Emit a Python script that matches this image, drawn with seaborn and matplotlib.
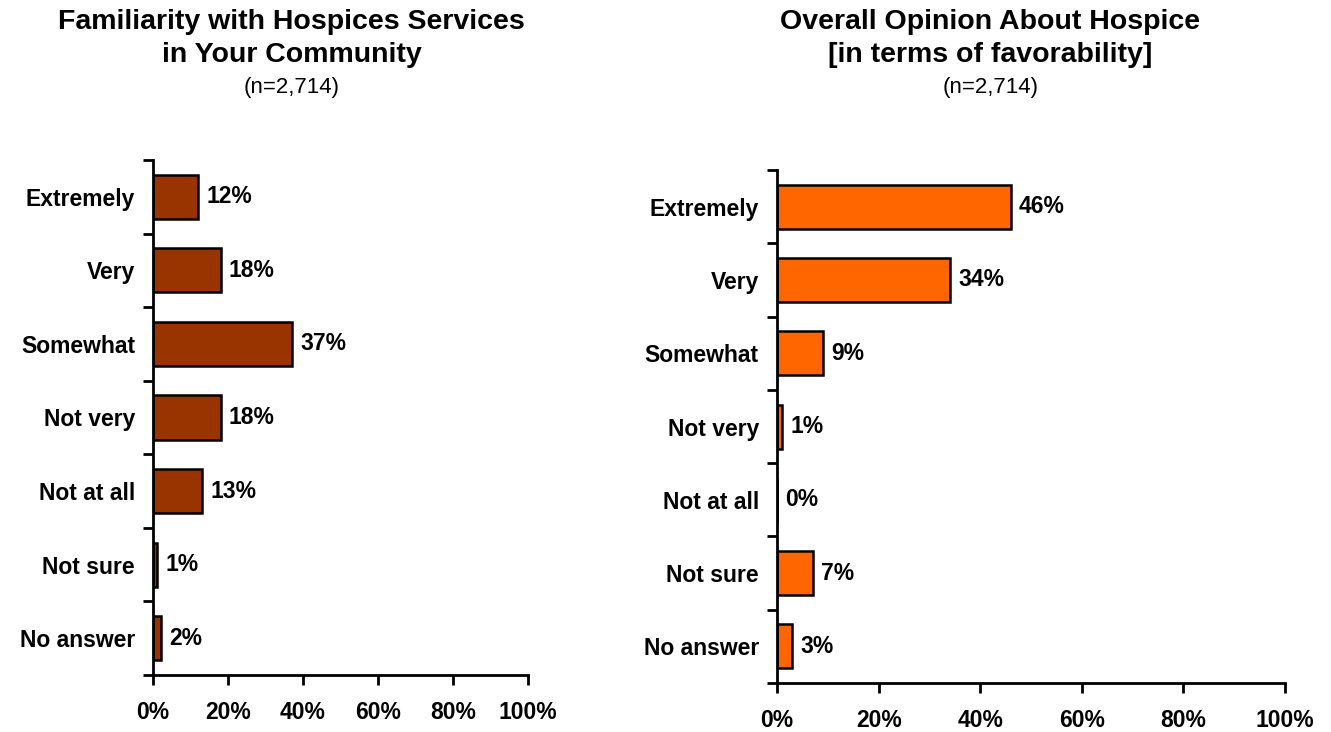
import matplotlib
matplotlib.use("Agg")
import matplotlib.pyplot as plt
import seaborn as sns
import pandas as pd

sns.set_theme(style="white")
plt.rcParams["font.family"] = ["Liberation Sans", "DejaVu Sans"]
plt.rcParams.update({"text.color": "black", "axes.labelcolor": "black",
                     "xtick.color": "black", "ytick.color": "black"})

categories = ["Extremely", "Very", "Somewhat", "Not very", "Not at all", "Not sure", "No answer"]
familiarity = [12, 18, 37, 18, 13, 1, 2]
opinion = [46, 34, 9, 1, 0, 7, 3]
x_ticks = [0, 20, 40, 60, 80, 100]
x_tick_labels = ["0%", "20%", "40%", "60%", "80%", "100%"]

left_title = ["Familiarity with Hospices Services", "in Your Community"]
right_title = ["Overall Opinion About Hospice", "[in terms of favorability]"]
sample_note = "(n=2,714)"

LABEL_SIZE = 16.5

fig = plt.figure(figsize=(13.31, 7.32), dpi=100)
ax_left = fig.add_axes([0.1150, 0.0779, 0.2817, 0.7035])
ax_right = fig.add_axes([0.5838, 0.0669, 0.3817, 0.7008])


def draw_panel(ax, values, color):
    df = pd.DataFrame({"category": categories, "pct": values})
    sns.barplot(data=df, x="pct", y="category", color=color, saturation=1,
                edgecolor="black", linewidth=1.8, width=0.6, ax=ax)
    ax.set_xlim(0, 100)
    ax.set_ylim(len(categories) - 0.5, -0.5)
    ax.set_xlabel("")
    ax.set_ylabel("")

    # boundary ticks between categories; labels sit on minor ticks at the centres
    ax.set_yticks([i - 0.5 for i in range(len(categories) + 1)])
    ax.set_yticklabels([])
    ax.set_yticks(range(len(categories)), minor=True)
    ax.set_yticklabels(categories, minor=True, fontsize=LABEL_SIZE, fontweight="bold")
    ax.tick_params(axis="y", which="major", direction="out", length=7, width=2,
                   color="black", left=True)
    ax.tick_params(axis="y", which="minor", length=0, pad=13, left=True)

    ax.set_xticks(x_ticks)
    ax.set_xticklabels(x_tick_labels, fontsize=LABEL_SIZE, fontweight="bold")
    ax.tick_params(axis="x", direction="out", length=7, width=2, color="black",
                   pad=12, bottom=True)

    for side in ["top", "right"]:
        ax.spines[side].set_visible(False)
    for side in ["left", "bottom"]:
        ax.spines[side].set_color("black")
        ax.spines[side].set_linewidth(2)

    for container in ax.containers:
        ax.bar_label(container, fmt="%d%%", padding=6, fontsize=LABEL_SIZE,
                     fontweight="bold")


draw_panel(ax_left, familiarity, "#993300")
draw_panel(ax_right, opinion, "#FF6600")

for cx, lines in [(0.219, left_title), (0.744, right_title)]:
    fig.text(cx, 1 - 22 / 732, lines[0], ha="center", va="center",
             fontsize=20.5, fontweight="bold")
    fig.text(cx, 1 - 55 / 732, lines[1], ha="center", va="center",
             fontsize=20.5, fontweight="bold")
    fig.text(cx, 1 - 88 / 732, sample_note, ha="center", va="center", fontsize=16)

fig.savefig("out.png", dpi=100)
